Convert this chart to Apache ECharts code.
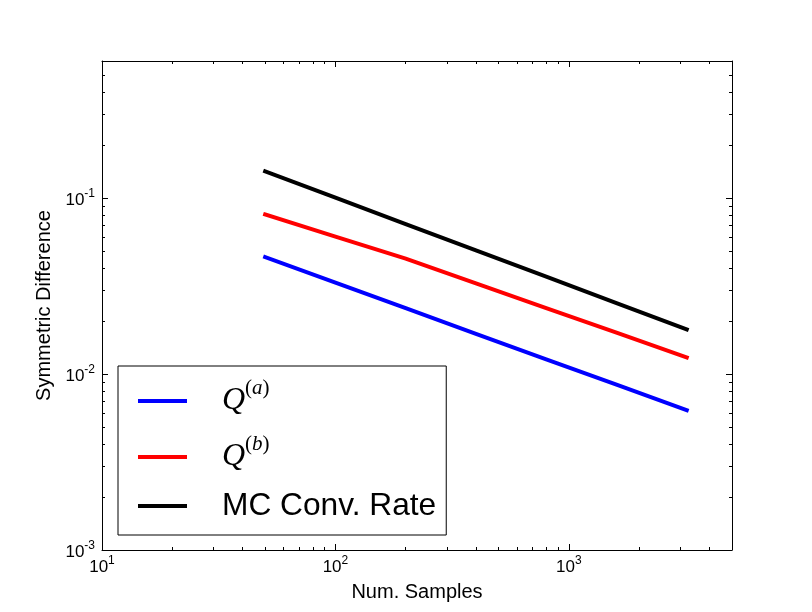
<!DOCTYPE html>
<html>
<head>
<meta charset="utf-8">
<script src="https://cdn.jsdelivr.net/npm/echarts@6/dist/echarts.min.js"></script>
<style>html,body{margin:0;padding:0;background:#fff}#c{width:812px;height:612px}</style>
</head>
<body>
<div id="c"></div>
<script>
// ---- data ----
const samples = [50, 100, 200, 400, 800, 1600, 3200];
const qA = [0.0461, 0.0330, 0.0237, 0.0169, 0.0121, 0.00869, 0.00622];
const qB = [0.0806, 0.0603, 0.0452, 0.0327, 0.0237, 0.0172, 0.0124];
const mcRate = [0.1416, 0.1003, 0.0710, 0.0503, 0.0357, 0.0253, 0.0179];
const seriesNames = ['Q(a)', 'Q(b)', 'MC Conv. Rate'];
const xMajorTicks = [10, 100, 1000];
const xMinorTicks = [20, 30, 40, 50, 60, 70, 80, 90, 200, 300, 400, 500, 600, 700, 800, 900, 2000, 3000, 4000];
const yMajorTicks = [0.001, 0.01, 0.1];
const yMinorTicks = [0.002, 0.003, 0.004, 0.005, 0.006, 0.007, 0.008, 0.009,
  0.02, 0.03, 0.04, 0.05, 0.06, 0.07, 0.08, 0.09, 0.2, 0.3, 0.4, 0.5];
const xRange = [10, 5000];
const yRange = [0.001, 0.6];

// ---- chart ----
const chart = echarts.init(document.getElementById('c'), null, {renderer: 'canvas'});
const SANS = 'Liberation Sans';
const SERIF = 'Liberation Serif';

function powLabel(v) {
  const e = Math.round(Math.log10(v));
  if (Math.abs(Math.log10(v) - e) > 1e-6) return '';
  return '{b|10}{s|' + e + '}';
}
const labelRich = {
  b: {fontFamily: SANS, fontSize: 17, color: '#000', verticalAlign: 'bottom', lineHeight: 21},
  s: {fontFamily: SANS, fontSize: 12, color: '#000', verticalAlign: 'top'}
};

function mkAxis(kind, pos, ticks, len, withLine, withLabel, extra) {
  const range = kind === 'x' ? xRange : yRange;
  return Object.assign({
    type: 'log', logBase: 10, min: range[0], max: range[1], position: pos,
    gridIndex: 0,
    axisLine: {show: withLine, onZero: false, lineStyle: {color: '#000', width: 1}},
    axisTick: {show: true, inside: true, length: len, customValues: ticks, lineStyle: {color: '#000', width: 1}},
    axisLabel: withLabel ? {show: true, customValues: ticks, formatter: powLabel, rich: labelRich, margin: kind === 'x' ? 5 : 7}
                         : {show: false},
    splitLine: {show: false},
    minorTick: {show: false}
  }, extra || {});
}

const legendFmt = {
  'Q(a)': '{g| }{q|Q}{p|(}{i|a}{p|)}',
  'Q(b)': '{g| }{q|Q}{p|(}{i|b}{p|)}',
  'MC Conv. Rate': '{g| }{m|MC Conv. Rate}'
};

const option = {
  animation: false,
  backgroundColor: '#fff',
  grid: {left: 102, right: 80, top: 61, bottom: 62, containLabel: false},
  xAxis: [
    mkAxis('x', 'bottom', xMajorTicks, 6, true, true, {
      name: 'Num. Samples', nameLocation: 'middle', nameGap: 32,
      nameTextStyle: {fontFamily: SANS, fontSize: 20, color: '#000'}
    }),
    mkAxis('x', 'bottom', xMinorTicks, 3, false, false),
    mkAxis('x', 'top', xMajorTicks, 6, true, false),
    mkAxis('x', 'top', xMinorTicks, 3, false, false)
  ],
  yAxis: [
    mkAxis('y', 'left', yMajorTicks, 6, true, true, {
      name: 'Symmetric Difference', nameLocation: 'middle', nameGap: 42,
      nameTextStyle: {fontFamily: SANS, fontSize: 20, color: '#000'}
    }),
    mkAxis('y', 'left', yMinorTicks, 3, false, false),
    mkAxis('y', 'right', yMajorTicks, 6, true, false),
    mkAxis('y', 'right', yMinorTicks, 3, false, false)
  ],
  legend: {
    show: true, orient: 'vertical', left: 118, top: 366,
    padding: [12, 10, 13, 20],
    itemGap: 17, itemWidth: 49, itemHeight: 4, icon: 'rect',
    borderColor: '#000', borderWidth: 1, backgroundColor: '#fff',
    selectedMode: false,
    data: seriesNames,
    formatter: n => legendFmt[n],
    textStyle: {
      color: '#000',
      rich: {
        g: {width: 30, fontSize: 10},
        q: {fontFamily: SERIF, fontStyle: 'italic', fontSize: 32, color: '#000', lineHeight: 46, verticalAlign: 'middle'},
        p: {fontFamily: SERIF, fontSize: 21, color: '#000', verticalAlign: 'top'},
        i: {fontFamily: SERIF, fontStyle: 'italic', fontSize: 21, color: '#000', verticalAlign: 'top'},
        m: {fontFamily: SANS, fontSize: 31.7, color: '#000', lineHeight: 24}
      }
    }
  },
  series: [
    {name: seriesNames[0], color: '#0000ff', data: samples.map((x, i) => [x, qA[i]])},
    {name: seriesNames[1], color: '#ff0000', data: samples.map((x, i) => [x, qB[i]])},
    {name: seriesNames[2], color: '#000000', data: samples.map((x, i) => [x, mcRate[i]])}
  ].map(s => ({
    type: 'line', name: s.name, xAxisIndex: 0, yAxisIndex: 0, data: s.data,
    showSymbol: false, symbol: 'none', color: s.color,
    lineStyle: {color: s.color, width: 4, cap: 'square', join: 'miter'},
    emphasis: {disabled: true}
  }))
};
chart.setOption(option);
</script>
</body>
</html>
